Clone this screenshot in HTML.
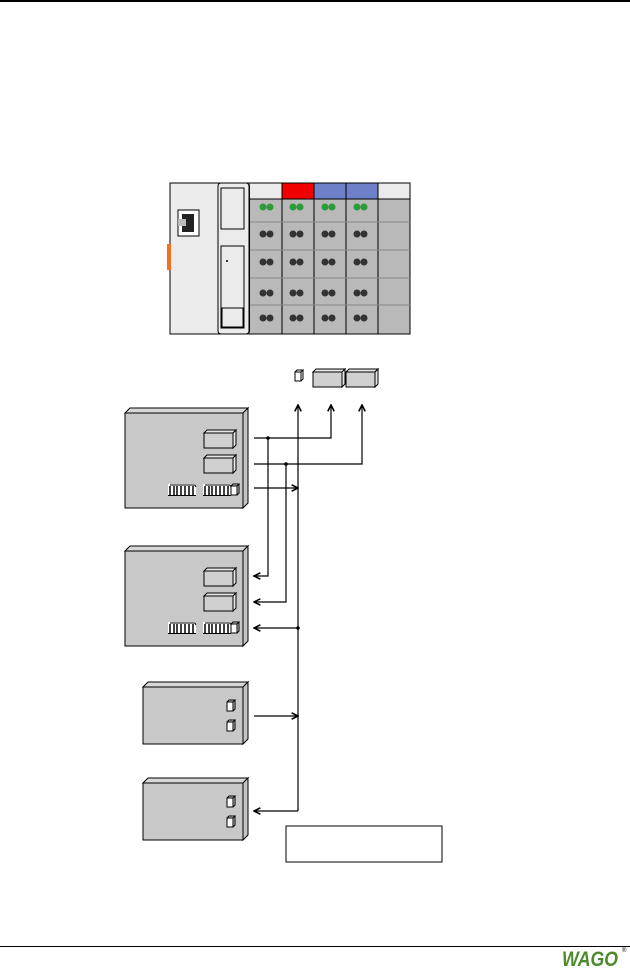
<!DOCTYPE html>
<html><head><meta charset="utf-8"><style>html,body{margin:0;padding:0;background:#fff}svg{display:block}</style></head>
<body>
<svg width="630" height="970" viewBox="0 0 630 970" xmlns="http://www.w3.org/2000/svg" font-family="Liberation Sans, sans-serif">
<defs>
<marker id="ah" viewBox="0 0 10 10" refX="9" refY="5" markerWidth="8" markerHeight="8" orient="auto" markerUnits="userSpaceOnUse">
<path d="M1,1 L9,5 L1,9" fill="none" stroke="#000" stroke-width="2"/>
</marker>
<g id="big">
<path d="M0,3 L3,0 L32,0 L29,3 Z" fill="#e6e6e6" stroke="#000" stroke-width="1"/>
<rect x="0" y="3" width="29" height="15" fill="#d0d0d0" stroke="#000" stroke-width="1"/>
<path d="M29,3 L32,0 L32,15 L29,18 Z" fill="#e6e6e6" stroke="#000" stroke-width="1"/>
</g>
<g id="sm">
<rect x="0" y="2" width="6" height="9" fill="#fff" stroke="#000" stroke-width="1"/>
<path d="M0,2 L2,0 L8,0 L6,2 M6,11 L8,9 L8,0" fill="none" stroke="#000" stroke-width="1"/>
</g>
<g id="strip">
<rect x="0" y="0" width="28" height="11" fill="#fff" stroke="none"/>
<path d="M2,11 V2 M6,11 V2 M9,11 V2 M13,11 V2 M17,11 V2 M21,11 V2 M25,11 V2" stroke="#000" stroke-width="1.5"/>
<path d="M0,11.5 H28 M2,1 H27 L28,3" stroke="#000" stroke-width="1" fill="none"/>
</g>
</defs>

<rect x="0" y="0" width="630" height="2" fill="#000"/>
<rect x="0" y="946" width="630" height="1" fill="#000"/>
<text x="562" y="966" font-size="21" font-weight="bold" font-style="italic" fill="#4c8b2b" textLength="56" lengthAdjust="spacingAndGlyphs">WAGO</text>
<text x="622" y="952" font-size="6" fill="#000">®</text>

<!-- controller -->
<rect x="170" y="183" width="80" height="151" fill="#ebebeb" stroke="#000" stroke-width="1"/>
<rect x="167" y="244" width="4" height="26" fill="#f07020"/>
<rect x="178" y="210" width="21" height="26" fill="#fff" stroke="#000"/>
<rect x="182" y="214" width="12" height="18" fill="#222"/>
<rect x="178" y="219" width="8" height="7" fill="#bbb"/>
<rect x="218" y="183" width="31" height="151" rx="3" fill="#ebebeb" stroke="#000"/>
<rect x="221" y="188" width="23" height="41" fill="#ebebeb" stroke="#000"/>
<rect x="221" y="246" width="23" height="82" fill="#ebebeb" stroke="#000"/>
<rect x="222" y="308" width="21" height="19" fill="#ebebeb" stroke="#000"/>
<rect x="226" y="260" width="2" height="2" fill="#333"/>
<!-- modules -->
<rect x="250" y="183" width="160" height="151" fill="#b9b9b9"/>
<rect x="250" y="183" width="32" height="16" fill="#ebebeb"/>
<rect x="282" y="183" width="32" height="16" fill="#f00000"/>
<rect x="314" y="183" width="32" height="16" fill="#6e80c8"/>
<rect x="346" y="183" width="32" height="16" fill="#6e80c8"/>
<rect x="378" y="183" width="32" height="16" fill="#ebebeb"/>
<g stroke="#000" stroke-width="1">
<path d="M250,183 H410 V334 H250 M250,199 H410" fill="none"/>
<path d="M282,183 V334 M314,183 V334 M346,183 V334 M378,183 V334"/>
</g>
<g stroke="#888" stroke-width="1"><path d="M250,222 H410 M250,250 H410 M250,278 H410 M250,305 H410"/></g>
<g fill="#2e9b3a">
<circle cx="263" cy="207" r="3.5"/><circle cx="270" cy="207" r="3.5"/>
<circle cx="293" cy="207" r="3.5"/><circle cx="300" cy="207" r="3.5"/>
<circle cx="325" cy="207" r="3.5"/><circle cx="332" cy="207" r="3.5"/>
<circle cx="357" cy="207" r="3.5"/><circle cx="364" cy="207" r="3.5"/>
</g>
<g fill="#333">
<circle cx="263" cy="234" r="3.5"/><circle cx="270" cy="234" r="3.5"/><circle cx="293" cy="234" r="3.5"/><circle cx="300" cy="234" r="3.5"/><circle cx="325" cy="234" r="3.5"/><circle cx="332" cy="234" r="3.5"/><circle cx="357" cy="234" r="3.5"/><circle cx="364" cy="234" r="3.5"/>
<circle cx="263" cy="262" r="3.5"/><circle cx="270" cy="262" r="3.5"/><circle cx="293" cy="262" r="3.5"/><circle cx="300" cy="262" r="3.5"/><circle cx="325" cy="262" r="3.5"/><circle cx="332" cy="262" r="3.5"/><circle cx="357" cy="262" r="3.5"/><circle cx="364" cy="262" r="3.5"/>
<circle cx="263" cy="293" r="3.5"/><circle cx="270" cy="293" r="3.5"/><circle cx="293" cy="293" r="3.5"/><circle cx="300" cy="293" r="3.5"/><circle cx="325" cy="293" r="3.5"/><circle cx="332" cy="293" r="3.5"/><circle cx="357" cy="293" r="3.5"/><circle cx="364" cy="293" r="3.5"/>
<circle cx="263" cy="318" r="3.5"/><circle cx="270" cy="318" r="3.5"/><circle cx="293" cy="318" r="3.5"/><circle cx="300" cy="318" r="3.5"/><circle cx="325" cy="318" r="3.5"/><circle cx="332" cy="318" r="3.5"/><circle cx="357" cy="318" r="3.5"/><circle cx="364" cy="318" r="3.5"/>
</g>

<!-- top connectors -->
<use href="#sm" x="295" y="370"/>
<use href="#big" x="313" y="369"/>
<use href="#big" x="346" y="369"/>

<!-- Box 1 -->
<g stroke="#000" stroke-width="1">
<path d="M125,413 L130,408 L248,408 L243,413 Z" fill="#d8d8d8"/>
<path d="M243,413 L248,408 L248,503 L243,508 Z" fill="#c4c4c4"/>
<rect x="125" y="413" width="118" height="95" fill="#c8c8c8"/>
</g>
<use href="#big" x="204" y="430"/>
<use href="#big" x="204" y="455"/>
<use href="#strip" x="168" y="484"/>
<use href="#strip" x="203" y="484"/>
<use href="#sm" x="231" y="484"/>

<!-- Box 2 -->
<g stroke="#000" stroke-width="1">
<path d="M125,551 L130,546 L248,546 L243,551 Z" fill="#d8d8d8"/>
<path d="M243,551 L248,546 L248,641 L243,646 Z" fill="#c4c4c4"/>
<rect x="125" y="551" width="118" height="95" fill="#c8c8c8"/>
</g>
<use href="#big" x="204" y="568"/>
<use href="#big" x="204" y="593"/>
<use href="#strip" x="168" y="622"/>
<use href="#strip" x="203" y="622"/>
<use href="#sm" x="231" y="622"/>

<!-- Box 3 -->
<g stroke="#000" stroke-width="1">
<path d="M143,687 L148,682 L248,682 L243,687 Z" fill="#d8d8d8"/>
<path d="M243,687 L248,682 L248,739 L243,744 Z" fill="#c4c4c4"/>
<rect x="143" y="687" width="100" height="57" fill="#c8c8c8"/>
</g>
<use href="#sm" x="227" y="700"/>
<use href="#sm" x="227" y="720"/>

<!-- Box 4 -->
<g stroke="#000" stroke-width="1">
<path d="M143,783 L148,778 L248,778 L243,783 Z" fill="#d8d8d8"/>
<path d="M243,783 L248,778 L248,835 L243,840 Z" fill="#c4c4c4"/>
<rect x="143" y="783" width="100" height="57" fill="#c8c8c8"/>
</g>
<use href="#sm" x="227" y="796"/>
<use href="#sm" x="227" y="816"/>

<!-- lines -->
<g stroke="#000" stroke-width="1.2" fill="none">
<path d="M254,438 H331 V405" marker-end="url(#ah)"/>
<path d="M254,464 H362 V405" marker-end="url(#ah)"/>
<path d="M298,811 V405" marker-end="url(#ah)"/>
<path d="M254,488 H298" marker-end="url(#ah)"/>
<path d="M268,438 V576 H254" marker-end="url(#ah)"/>
<path d="M286,464 V602 H254" marker-end="url(#ah)"/>
<path d="M298,628 H254" marker-end="url(#ah)"/>
<path d="M254,716 H298" marker-end="url(#ah)"/>
<path d="M298,811 H254" marker-end="url(#ah)"/>
</g>
<circle cx="268" cy="438" r="1.8"/>
<circle cx="286" cy="464" r="1.8"/>
<circle cx="298" cy="628" r="1.8"/>

<rect x="286" y="826" width="156" height="36" fill="#fff" stroke="#000" stroke-width="1"/>
</svg>
</body></html>
